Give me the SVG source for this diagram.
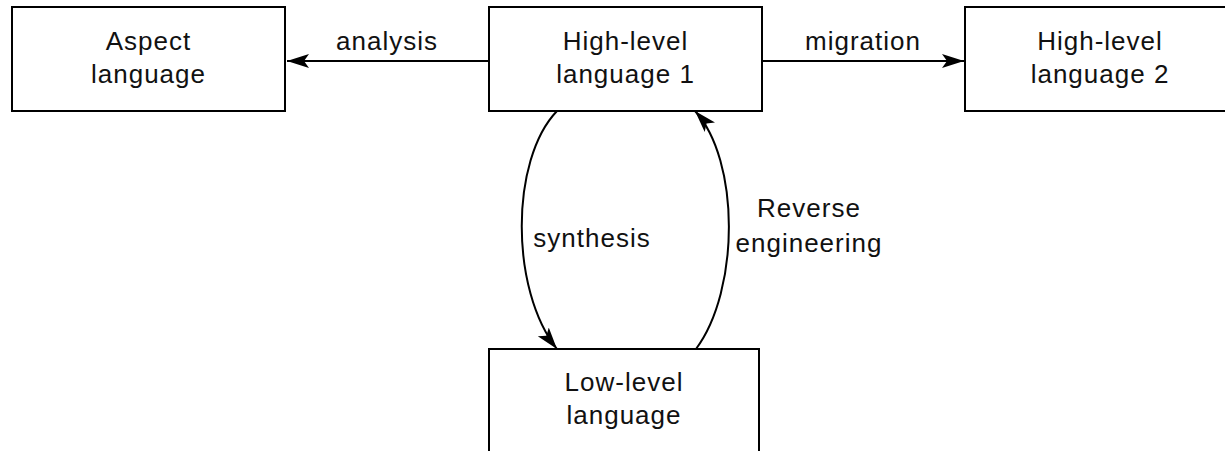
<svg xmlns="http://www.w3.org/2000/svg" width="1225" height="451" viewBox="0 0 1225 451">
  <style>
    .box { fill: #ffffff; stroke: #000000; stroke-width: 2; }
    .lbl { font-family: "Liberation Sans", Arial, sans-serif; font-size: 26px; letter-spacing: 1px; fill: #111111; text-anchor: middle; }
    .edge { fill: none; stroke: #000000; stroke-width: 2; }
  </style>
  <defs>
    <marker id="arrow" markerWidth="24" markerHeight="16" refX="22" refY="8" orient="auto" markerUnits="userSpaceOnUse">
      <path d="M0,1 L22,8 L0,15 L5,8 Z" fill="#000000"/>
    </marker>
  </defs>
  <rect width="1225" height="451" fill="#ffffff"/>

  <g id="connectors">
    <line class="edge" x1="489" y1="61" x2="287" y2="61" marker-end="url(#arrow)"/>
    <line class="edge" x1="762" y1="61" x2="964" y2="61" marker-end="url(#arrow)"/>
    <path class="edge" d="M557,111 C510,160 510,290 557,349" marker-end="url(#arrow)"/>
    <path class="edge" d="M696,349 C740,290 740,160 695,111" marker-end="url(#arrow)"/>
    <text class="lbl" x="387" y="50">analysis</text>
    <text class="lbl" x="863" y="50">migration</text>
    <text class="lbl" x="592" y="247">synthesis</text>
    <text class="lbl" x="809" y="217">Reverse</text>
    <text class="lbl" x="809" y="252">engineering</text>
  </g>

  <g id="aspect-language">
    <rect class="box" x="12" y="7" width="273" height="104"/>
    <text class="lbl" x="148.5" y="50">Aspect</text>
    <text class="lbl" x="148.5" y="83">language</text>
  </g>

  <g id="high-level-language-1">
    <rect class="box" x="489" y="7" width="273" height="104"/>
    <text class="lbl" x="625.5" y="50">High-level</text>
    <text class="lbl" x="625.5" y="83">language 1</text>
  </g>

  <g id="high-level-language-2">
    <rect class="box" x="965" y="7" width="280" height="104"/>
    <text class="lbl" x="1100" y="50">High-level</text>
    <text class="lbl" x="1100" y="83">language 2</text>
  </g>

  <g id="low-level-language">
    <rect class="box" x="489" y="349" width="270" height="120"/>
    <text class="lbl" x="624" y="391">Low-level</text>
    <text class="lbl" x="624" y="424">language</text>
  </g>
</svg>
